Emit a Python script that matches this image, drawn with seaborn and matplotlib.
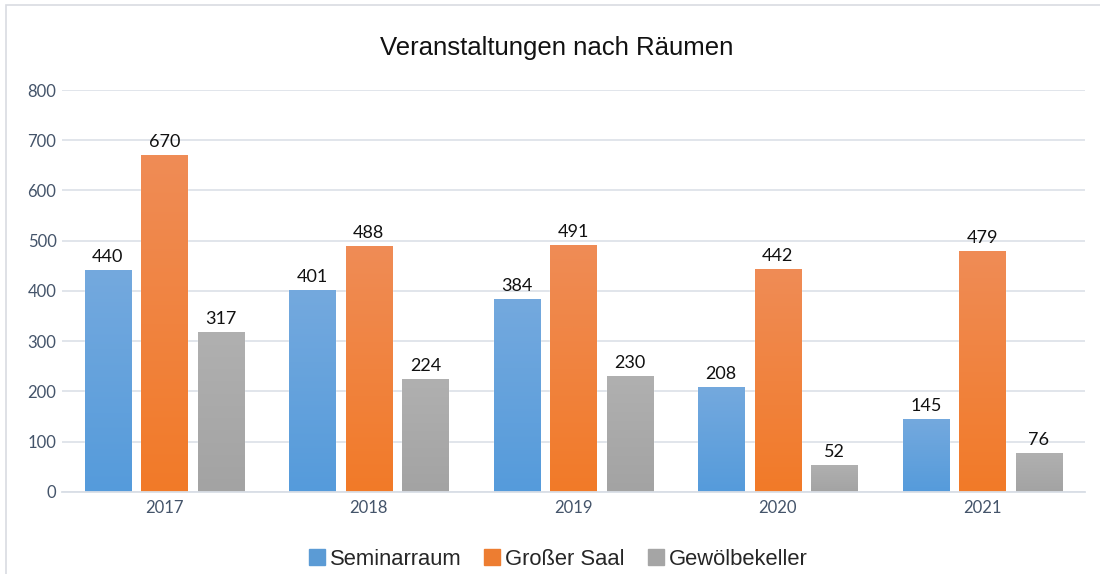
import numpy as np
import pandas as pd
import seaborn as sns
import matplotlib.pyplot as plt
from matplotlib.colors import LinearSegmentedColormap
from matplotlib.patches import Rectangle
from matplotlib.lines import Line2D

years = ['2017', '2018', '2019', '2020', '2021']
rooms = ['Seminarraum', 'Großer Saal', 'Gewölbekeller']
seminarraum = [440, 401, 384, 208, 145]
grosser_saal = [670, 488, 491, 442, 479]
gewoelbekeller = [317, 224, 230, 52, 76]

# colours: bottom (dark) and top (light) of each bar gradient
base_cols = ['#5b9bd5', '#ed7d31', '#a5a5a5']
dark_cols = ['#559bdb', '#f27a28', '#a3a3a3']
light_cols = ['#74a9de', '#ef8c56', '#b0b0b0']

df = pd.DataFrame({
    'Jahr': years * 3,
    'Raum': [r for r in rooms for _ in years],
    'Anzahl': seminarraum + grosser_saal + gewoelbekeller,
})

sns.set_style('white')
plt.rcParams['font.family'] = ['Liberation Sans', 'DejaVu Sans']

fig = plt.figure(figsize=(11, 5.74), dpi=100)
ax = fig.add_axes([0.0564, 0.1429, 0.9296, 0.7003])

sns.barplot(data=df, x='Jahr', y='Anzahl', hue='Raum', hue_order=rooms,
            palette=base_cols, width=0.83, gap=0.185, ax=ax, legend=False,
            errorbar=None, zorder=2)

ax.set_yticks(range(0, 801, 100))
ax.yaxis.grid(True, color='#d9dee6', linewidth=1.1, zorder=0)
ax.set_axisbelow(True)
for s in ['top', 'right', 'left']:
    ax.spines[s].set_visible(False)
ax.spines['bottom'].set_color('#d9dee6')
ax.spines['bottom'].set_linewidth(1.3)
ax.tick_params(axis='both', length=0, labelsize=12, labelcolor='#44546a')
ax.tick_params(axis='y', pad=4)
ax.tick_params(axis='x', pad=6)
for lab in ax.get_xticklabels() + ax.get_yticklabels():
    lab.set_fontfamily('Lato')
ax.set_xlabel('')
ax.set_ylabel('')

# gradient fill + value labels
grad = np.linspace(0, 1, 256).reshape(-1, 1)
for i, cont in enumerate(ax.containers):
    cmap = LinearSegmentedColormap.from_list('g%d' % i, [dark_cols[i], light_cols[i]])
    for bar in cont:
        x0, w, h = bar.get_x(), bar.get_width(), bar.get_height()
        ax.imshow(grad, extent=[x0, x0 + w, 0, h], origin='lower', cmap=cmap,
                  aspect='auto', zorder=2.5)
        ax.text(x0 + w / 2, h + 11, '%d' % h, ha='center', va='bottom',
                fontsize=13, fontfamily='Lato', color='#111111')
ax.set_xlim(-0.5, 4.5)
ax.set_ylim(0, 800)

fig.text(0.506, 0.917, 'Veranstaltungen nach Räumen', ha='center', va='center',
         fontsize=18.5, color='#111111')

handles = [Line2D([], [], marker='s', linestyle='', markersize=11,
                  markerfacecolor=c, markeredgecolor=c) for c in base_cols]
fig.legend(handles, rooms, loc='center', bbox_to_anchor=(0.505, 0.025), ncol=3,
           frameon=False, fontsize=15.8, handletextpad=0.0, columnspacing=0.8,
           handlelength=1.2)

fig.patches.append(Rectangle((6 / 1100, -0.1), 1.2, 1 - 5 / 574 + 0.1,
                             transform=fig.transFigure, fill=False,
                             edgecolor='#d9dce1', linewidth=1.2, zorder=0))

fig.savefig('out.png', dpi=100)
